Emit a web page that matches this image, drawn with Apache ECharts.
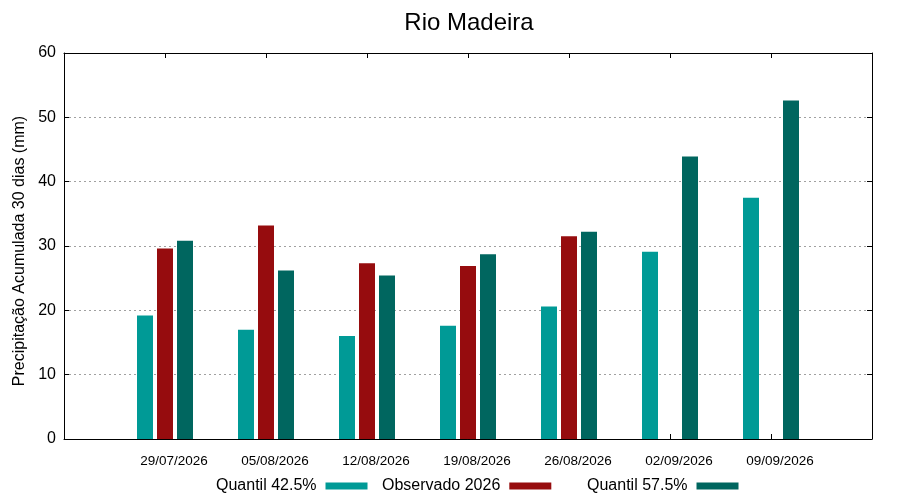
<!DOCTYPE html>
<html>
<head>
<meta charset="utf-8">
<script src="https://cdn.jsdelivr.net/npm/echarts@6/dist/echarts.min.js"></script>
<style>
  html, body { margin: 0; padding: 0; background: #fff; }
  #chart { width: 900px; height: 500px; }
</style>
</head>
<body>
<div id="chart"></div>
<script>
// datas (uma por semana)
const datas = ['29/07/2026', '05/08/2026', '12/08/2026', '19/08/2026', '26/08/2026', '02/09/2026', '09/09/2026'];
const quantil425 = [19.2, 17.0, 16.0, 17.6, 20.6, 29.1, 37.5];
const observado = [29.6, 33.2, 27.3, 26.9, 31.5, null, null];
const quantil575 = [30.8, 26.2, 25.4, 28.7, 32.2, 43.9, 52.6];
const yTicks = [0, 10, 20, 30, 40, 50, 60];

const nomes = ['Quantil 42.5%', 'Observado 2026', 'Quantil 57.5%'];
const cores = ['#009a96', '#960c0e', '#00665f'];

// posição 1..7 no eixo x (0 e 8 ficam vazios)
function pares(vals) {
    return vals.map((v, i) => [i + 1, v == null ? '-' : v]);
}

const fonte = 'Liberation Sans, Arial, sans-serif';
let myChart = echarts.init(document.getElementById('chart'));

let legendas = nomes.map((n, i) => ({
    data: [n],
    left: [216, 382, 587][i],
    top: 478,
    padding: 0,
    align: 'right',
    icon: 'rect',
    itemWidth: 42,
    itemHeight: 7,
    selectedMode: false,
    textStyle: { fontFamily: fonte, fontSize: 16, color: '#000', padding: [0, 4, 0, 0] }
}));

let eixo = { color: '#000', width: 1 };

let option = {
    animation: false,
    title: {
        text: 'Rio Madeira',
        left: 464,
        textAlign: 'center',
        top: 6,
        textStyle: { fontFamily: fonte, fontSize: 24, fontWeight: 'normal', color: '#000' }
    },
    legend: legendas,
    grid: { left: 64, right: 28, top: 53, bottom: 61, containLabel: false },
    xAxis: [
        {
            type: 'value', min: 0, max: 8, interval: 1, position: 'bottom',
            axisLine: { show: true, onZero: false, lineStyle: eixo },
            axisTick: { show: true, inside: true, length: 5, lineStyle: eixo },
            splitLine: { show: false },
            axisLabel: {
                margin: 15, fontFamily: fonte, fontSize: 13.5, color: '#000',
                padding: [0, 0, 0, 18],
                formatter: v => datas[v - 1] || ''
            }
        },
        {
            type: 'value', min: 0, max: 8, interval: 1, position: 'top',
            axisLine: { show: true, onZero: false, lineStyle: eixo },
            axisTick: { show: true, inside: true, length: 5, lineStyle: eixo },
            splitLine: { show: false },
            axisLabel: { show: false }
        }
    ],
    yAxis: [
        {
            type: 'value', min: yTicks[0], max: yTicks[yTicks.length - 1], interval: 10, position: 'left',
            name: 'Precipitação Acumulada 30 dias (mm)',
            nameLocation: 'middle',
            nameGap: 36,
            nameTextStyle: { fontFamily: fonte, fontSize: 16, color: '#000', padding: [0, 10, 0, 0] },
            axisLine: { show: true, onZero: false, lineStyle: eixo },
            axisTick: { show: true, inside: true, length: 5, lineStyle: eixo },
            splitLine: { show: true, lineStyle: { color: '#a0a0a0', type: [2, 3], width: 1 } },
            axisLabel: { margin: 8, fontFamily: fonte, fontSize: 16, color: '#000' }
        },
        {
            type: 'value', min: yTicks[0], max: yTicks[yTicks.length - 1], interval: 10, position: 'right',
            axisLine: { show: true, onZero: false, lineStyle: eixo },
            axisTick: { show: true, inside: true, length: 5, lineStyle: eixo },
            splitLine: { show: false },
            axisLabel: { show: false }
        }
    ],
    series: [quantil425, observado, quantil575].map((vals, i) => ({
        name: nomes[i],
        type: 'bar',
        xAxisIndex: 0,
        yAxisIndex: 0,
        barWidth: 16,
        barGap: '25%',
        itemStyle: { color: cores[i] },
        data: pares(vals)
    }))
};
// 绘制图表
myChart.setOption(option);
</script>
</body>
</html>
